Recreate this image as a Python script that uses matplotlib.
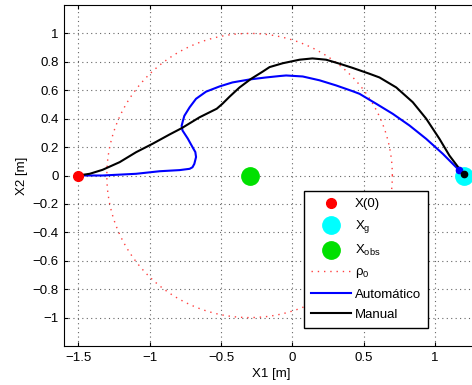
import numpy as np
import matplotlib.pyplot as plt

plt.rcParams['font.family'] = ['Liberation Sans', 'DejaVu Sans']
plt.rcParams['axes.unicode_minus'] = True

# start, goal and obstacle
x0 = [-1.5, 0.0]
xg = [1.2, 0.0]
xobs = [-0.3, 0.0]
rho0 = 1.0

# automatic trajectory
auto_x = [-1.5, -1.33, -1.095, -0.93, -0.79, -0.72, -0.70, -0.687, -0.675,
          -0.68, -0.70, -0.733, -0.77, -0.776, -0.767, -0.757, -0.72, -0.675,
          -0.605, -0.51, -0.42, -0.30, -0.185, -0.09, -0.044, 0.072, 0.19,
          0.306, 0.42, 0.47, 0.54, 0.587, 0.703, 0.82, 0.937, 1.053, 1.165]
auto_y = [0.0, 0.0, 0.012, 0.03, 0.038, 0.047, 0.058, 0.082, 0.13,
          0.165, 0.20, 0.26, 0.317, 0.35, 0.385, 0.42, 0.48, 0.54,
          0.59, 0.627, 0.655, 0.676, 0.69, 0.70, 0.704, 0.697, 0.67,
          0.634, 0.594, 0.575, 0.533, 0.505, 0.434, 0.352, 0.258, 0.153, 0.04]

# manual trajectory
man_x = [-1.5, -1.42, -1.33, -1.21, -1.095, -0.98, -0.86, -0.776, -0.65,
         -0.53, -0.49, -0.44, -0.37, -0.29, -0.21, -0.16, -0.068, 0.05, 0.14,
         0.236, 0.33, 0.42, 0.54, 0.61, 0.727, 0.843, 0.937, 1.03, 1.10,
         1.17, 1.205]
man_y = [0.0, 0.012, 0.04, 0.094, 0.164, 0.223, 0.289, 0.333, 0.41,
         0.47, 0.505, 0.555, 0.62, 0.68, 0.73, 0.763, 0.79, 0.815, 0.824,
         0.815, 0.787, 0.758, 0.716, 0.69, 0.62, 0.516, 0.40, 0.258, 0.14,
         0.047, 0.012]

fig = plt.figure(figsize=(4.72, 3.85), dpi=100)
ax = fig.add_axes([64/472, 39/385, 414/472, 341/385])

ax.plot(x0[0], x0[1], 'o', color='red', ms=7, label='X(0)', zorder=5)
ax.plot(xg[0], xg[1], 'o', color='cyan', ms=12.5, label='X$_\\mathregular{g}$',
        zorder=3, clip_on=False)
ax.plot(xobs[0], xobs[1], 'o', color='#00e000', ms=12.5,
        label='X$_\\mathregular{obs}$', zorder=3)

t = np.linspace(0, 2*np.pi, 200)
ax.plot(xobs[0] + rho0*np.cos(t), xobs[1] + rho0*np.sin(t),
        linestyle=(0, (1, 3.5)), color='#ff4040', lw=1.0,
        label='$\\mathregular{\\rho_0}$')

ax.plot(auto_x, auto_y, '-', color='#0000ff', lw=1.5, label='Automático',
        zorder=4, solid_joinstyle='round')
ax.plot(man_x, man_y, '-', color='black', lw=1.5, label='Manual', zorder=4,
        solid_joinstyle='round')
ax.plot(auto_x[-1], auto_y[-1], 'o', color='#0000ff', ms=4.5, zorder=6)
ax.plot(man_x[-1], man_y[-1], 'o', color='black', ms=4.5, zorder=6)

ax.set_xlim(-1.6, 1.3)
ax.set_ylim(-1.2, 1.2)
ax.set_xticks([-1.5, -1, -0.5, 0, 0.5, 1])
ax.set_xticklabels(['\u22121.5', '\u22121', '\u22120.5', '0', '0.5', '1'])
yt = [-1, -0.8, -0.6, -0.4, -0.2, 0, 0.2, 0.4, 0.6, 0.8, 1]
ax.set_yticks(yt)
ax.set_yticklabels([('\u2212' if v < 0 else '') + ('%g' % abs(v)) for v in yt])
ax.tick_params(direction='in', top=True, right=True, labelsize=9.5, length=3,
               pad=4)
ax.grid(True, linestyle=(0, (1, 3)), color='#666666', lw=0.8)
ax.set_axisbelow(True)
ax.set_xlabel('X1 [m]', fontsize=9.5, labelpad=3)
ax.set_ylabel('X2 [m]', fontsize=9.5, labelpad=3)

leg = ax.legend(loc='lower left', bbox_to_anchor=(304/472, 57/385),
                bbox_transform=fig.transFigure, fontsize=9.5,
                frameon=True, fancybox=False, edgecolor='black',
                framealpha=1, borderpad=0.55, labelspacing=0.6,
                handlelength=3.0, handletextpad=0.3, numpoints=1,
                borderaxespad=0)
leg.get_frame().set_linewidth(1.0)

fig.savefig('out.png', dpi=100)
